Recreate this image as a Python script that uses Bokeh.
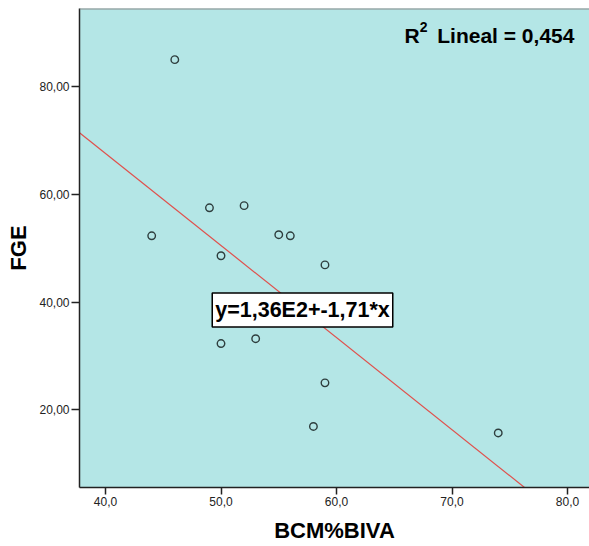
from bokeh.plotting import figure
from bokeh.models import Range1d, FixedTicker, Label, Span
from bokeh.embed import file_html
from bokeh.resources import INLINE

# ---- data ----
bcm = [46, 44, 49, 50, 52, 55, 56, 59, 50, 53, 59, 58, 74]
fge = [85.0, 52.3, 57.5, 48.6, 57.9, 52.5, 52.3, 46.9, 32.3, 33.2, 25.0, 16.9, 15.7]
fit_intercept = 136.0
fit_slope = -1.71
r2_text = "Lineal = 0,454"
eq_text = "y=1,36E2+-1,71*x"
x_ticks = [40, 50, 60, 70, 80]
x_tick_labels = ["40,0", "50,0", "60,0", "70,0", "80,0"]
y_ticks = [20, 40, 60, 80]
y_tick_labels = ["20,00", "40,00", "60,00", "80,00"]

X0, X1 = 37.75, 81.9
Y0, Y1 = 5.57, 94.5

p = figure(frame_width=510, frame_height=479, output_backend="svg", toolbar_location=None,
           x_range=Range1d(X0, X1), y_range=Range1d(Y0, Y1),
           min_border_left=79, min_border_right=0, min_border_top=8, min_border_bottom=40)
p.background_fill_color = "#b4e6e6"
p.border_fill_color = "white"
p.outline_line_color = None
p.grid.visible = False

FONT = "Liberation Sans"
for ax in (p.xaxis[0], p.yaxis[0]):
    ax.axis_line_color = "#222222"
    ax.axis_line_width = 1.5
    ax.major_tick_line_color = "#222222"
    ax.major_tick_line_width = 1.5
    ax.major_tick_in = 0
    ax.minor_tick_line_color = None
    ax.major_label_text_font = FONT
    ax.major_label_text_font_size = "12px"
    ax.major_label_text_color = "#222222"
    ax.axis_label_text_font = FONT
    ax.axis_label_text_font_size = "22px"
    ax.axis_label_text_font_style = "bold"
    ax.axis_label_text_color = "black"

p.xaxis.ticker = FixedTicker(ticks=x_ticks)
p.xaxis.major_label_overrides = dict(zip(x_ticks, x_tick_labels))
p.xaxis.major_tick_out = 7
p.xaxis.major_label_standoff = 2
p.xaxis.axis_label = "BCM%BIVA"
p.xaxis.axis_label_standoff = 9

p.yaxis.ticker = FixedTicker(ticks=y_ticks)
p.yaxis.major_label_overrides = dict(zip(y_ticks, y_tick_labels))
p.yaxis.major_tick_out = 8
p.yaxis.major_label_standoff = 2
p.yaxis.axis_label = "FGE"
p.yaxis.axis_label_standoff = 5

# top border
p.add_layout(Span(location=Y1, dimension="width", line_color="#888888", line_width=2))

# fit line
fx = [X0, X1]
fy = [fit_intercept + fit_slope * v for v in fx]
p.line(fx, fy, line_color="#e0504c", line_width=1.2)

# points
p.scatter(bcm, fge, size=7.5, marker="circle", fill_color=None,
          line_color="#2e3e3e", line_width=1.4)

# R^2 label
p.add_layout(Label(x=65.89, y=89.5, text="R", text_font=FONT, text_font_size="21px",
                   text_font_style="bold", text_color="black", text_baseline="alphabetic"))
p.add_layout(Label(x=67.2, y=91.0, text="2", text_font=FONT, text_font_size="14px",
                   text_font_style="bold", text_color="black", text_baseline="alphabetic"))
p.add_layout(Label(x=68.72, y=89.5, text=r2_text, text_font=FONT, text_font_size="21px",
                   text_font_style="bold", text_color="black", text_baseline="alphabetic"))

# equation label
p.add_layout(Label(x=49.24, y=41.7, text=eq_text, text_font=FONT, text_font_size="21.5px",
                   text_font_style="bold", text_color="black", text_baseline="top",
                   text_align="left", padding=dict(left=3, right=3, top=5, bottom=5),
                   background_fill_color="white", border_line_color="black",
                   border_line_width=1.5))

open("out.html", "w").write(file_html(p, INLINE))
